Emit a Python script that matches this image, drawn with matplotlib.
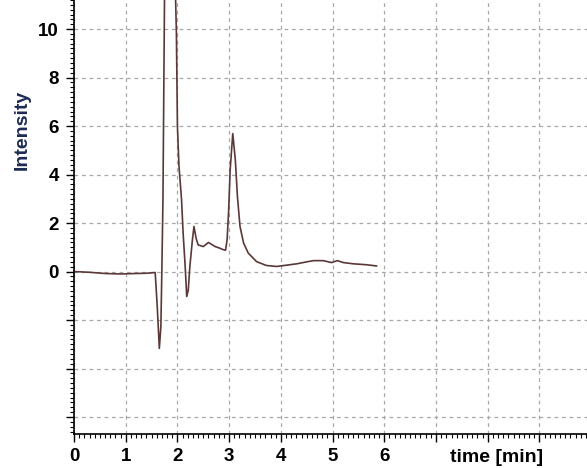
import matplotlib.pyplot as plt
from matplotlib.ticker import MultipleLocator

# chromatogram trace
zaman = [0.0, 0.3, 0.6, 0.9, 1.2, 1.4, 1.57, 1.61, 1.65, 1.68, 1.70, 1.72, 1.75,
         1.80, 1.86, 1.92, 1.965, 1.98, 2.0, 2.03, 2.08, 2.11, 2.15, 2.18, 2.21,
         2.24, 2.29, 2.32, 2.36, 2.40, 2.50, 2.60, 2.73, 2.80, 2.89, 2.93, 2.96,
         2.99, 3.02, 3.07, 3.12, 3.16, 3.21, 3.28, 3.37, 3.53, 3.72, 3.92, 4.1,
         4.31, 4.5, 4.63, 4.82, 4.98, 5.09, 5.21, 5.4, 5.66, 5.85]
siddet = [0.0, -0.03, -0.08, -0.1, -0.08, -0.07, -0.04, -1.45, -3.17, -2.27, 0.2,
          2.96, 11.2, 22.0, 28.0, 20.0, 11.2, 9.85, 6.0, 4.34, 2.96, 1.59, 0.2,
          -1.03, -0.76, 0.2, 1.31, 1.86, 1.38, 1.1, 1.03, 1.2, 1.03, 0.98, 0.9,
          0.88, 1.3, 2.5, 4.2, 5.69, 4.6, 3.1, 1.86, 1.17, 0.76, 0.41, 0.25, 0.21,
          0.26, 0.32, 0.4, 0.45, 0.45, 0.37, 0.45, 0.37, 0.32, 0.28, 0.23]

y_etiketler = [0, 2, 4, 6, 8, 10]
y_izgara = [-6, -4, -2, 0, 2, 4, 6, 8, 10]
x_etiketler = [0, 1, 2, 3, 4, 5, 6]
x_izgara = [0, 1, 2, 3, 4, 5, 6, 7, 8, 9]

plt.rcParams['font.family'] = ['Liberation Sans', 'DejaVu Sans']

fig = plt.figure(figsize=(5.87, 4.68), dpi=100)
ax = fig.add_axes([74 / 587, 34 / 468, 1 - 74 / 587, 1 - 34 / 468])

ax.plot(zaman, siddet, color='#5a3838', linewidth=1.2)

ax.set_xlim(0, 9.92)
ax.set_ylim(-6.7, 11.2)

ax.set_xticks(x_izgara)
ax.set_xticklabels([str(v) if v in x_etiketler else '' for v in x_izgara])
ax.set_yticks(y_izgara)
ax.set_yticklabels([str(v) if v in y_etiketler else '' for v in y_izgara])
ax.xaxis.set_minor_locator(MultipleLocator(0.1))
ax.yaxis.set_minor_locator(MultipleLocator(0.2))

ax.tick_params(axis='both', which='major', direction='out', length=6, width=1,
               labelsize=13.5, colors='black')
ax.tick_params(axis='both', which='minor', direction='out', length=3, width=0.8)
ax.tick_params(axis='y', pad=5)
ax.tick_params(axis='x', pad=4)
for lbl in ax.get_xticklabels() + ax.get_yticklabels():
    lbl.set_fontweight('bold')

ax.grid(True, which='major', color='#a8a8a8', linestyle=(0, (3, 3)), linewidth=0.9)

ax.spines['top'].set_visible(False)
ax.spines['right'].set_visible(False)
ax.spines['left'].set_linewidth(1.2)
ax.spines['bottom'].set_linewidth(1.2)

fig.text(22 / 587, 1 - 130 / 468, 'Intensity', rotation=90, ha='center', va='center',
         fontsize=14, fontweight='bold', color='#1c2a55')
fig.text(497 / 587, 1 - 458 / 468, 'time [min]', ha='center', va='center',
         fontsize=14, fontweight='bold', color='black')

fig.savefig('out.png', dpi=100)
